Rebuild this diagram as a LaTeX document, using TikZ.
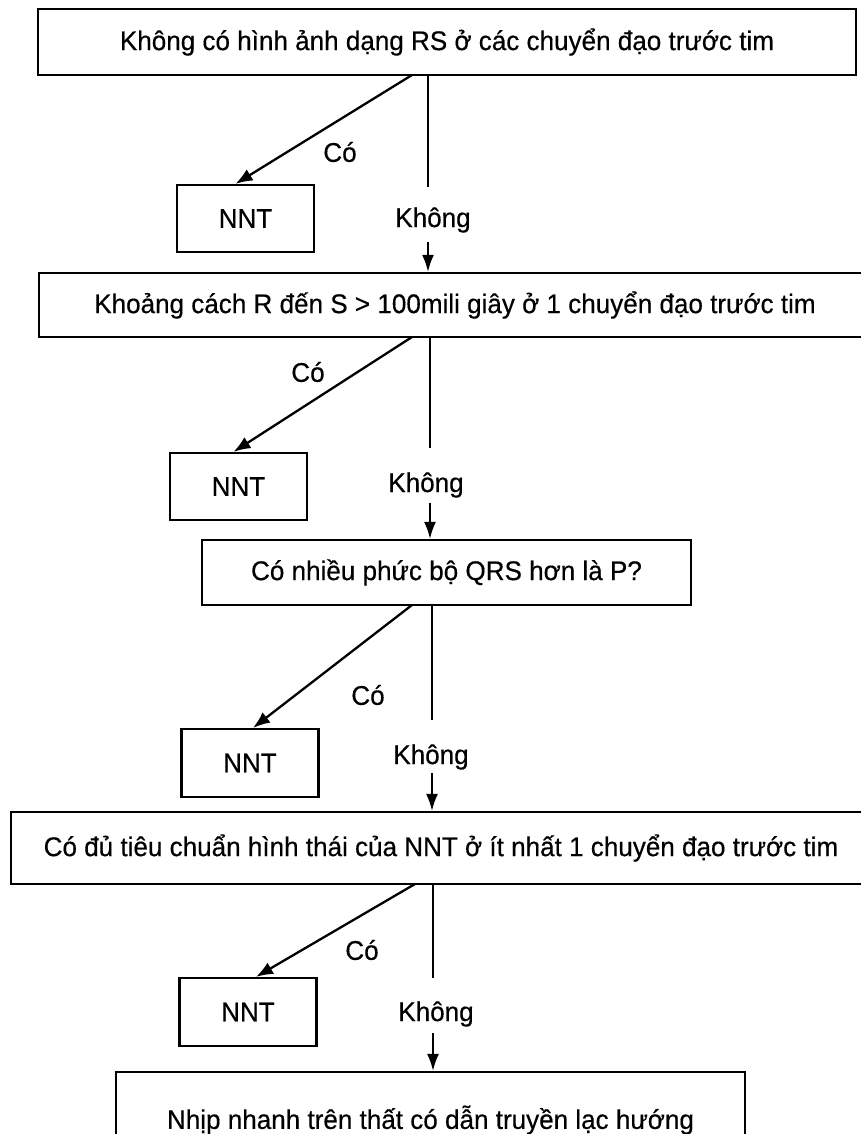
\documentclass[tikz,border=0pt]{standalone}
\usepackage{fontspec}
\setmainfont{Liberation Sans}[FakeStretch=0.965,FakeBold=0.4]
\usetikzlibrary{arrows.meta,calc}
\begin{document}
\begin{tikzpicture}[x=1pt,y=-1pt,
  txt/.style={font=\fontsize{27}{32}\selectfont},
  box/.style={draw,line width=2.2pt,inner sep=0pt,txt},
  nnt/.style={box,minimum width=137pt,minimum height=67pt},
  lbl/.style={inner sep=0pt,txt},
  yes/.style={line width=2.3pt,-{Latex[length=17pt,width=13pt]}},
  noline/.style={line width=2pt},
  noarr/.style={line width=2pt,-{Latex[length=17pt,width=12pt]}}]
\useasboundingbox (0,0) rectangle (860,1134);
\fill[white] (0,0) rectangle (860,1134);
% boxes
\node[box,minimum width=818pt,minimum height=66pt] (b1) at (447,42) {Không có hình ảnh dạng RS ở các chuyển đạo trước tim};
\node[box,minimum width=832pt,minimum height=64pt] (b2) at (455,305) {Khoảng cách R đến S > 100mili giây ở 1 chuyển đạo trước tim};
\node[box,minimum width=489pt,minimum height=65pt] (b3) at (446.5,572.5) {Có nhiều phức bộ QRS hơn là P?};
\node[box,minimum width=860pt,minimum height=72pt] (b4) at (441,848) {Có đủ tiêu chuẩn hình thái của NNT ở ít nhất 1 chuyển đạo trước tim};
\node[box,minimum width=629pt,minimum height=96pt] (b5) at (430.5,1120) {Nhịp nhanh trên thất có dẫn truyền lạc hướng};
% NNT boxes
\node[nnt] (n1) at (245.5,218.5) {NNT};
\node[nnt] (n2) at (238.5,486.5) {NNT};
\node[nnt,minimum height=68pt] (n3) at (250,763) {NNT};
\node[nnt,minimum height=68pt] (n4) at (248,1012) {NNT};
% labels
\node[lbl] (c1) at (340,152) {Có};
\node[lbl] (c2) at (308,372) {Có};
\node[lbl] (c3) at (368,695) {Có};
\node[lbl] (c4) at (362,950) {Có};
\node[lbl] (k1) at (433,220) {Không};
\node[lbl] (k2) at (426,485) {Không};
\node[lbl] (k3) at (431,757) {Không};
\node[lbl] (k4) at (436,1014) {Không};
% coordinates
\coordinate (s1) at (412,75);
\coordinate (s2) at (412,337);
\coordinate (s3) at (412,605);
\coordinate (s4) at (415,884);
\coordinate (v1a) at (428,187); \coordinate (v1b) at (428,242);
\coordinate (v2a) at (430,448); \coordinate (v2b) at (430,503);
\coordinate (v3a) at (432,720); \coordinate (v3b) at (432,773);
\coordinate (v4a) at (433,978); \coordinate (v4b) at (433,1033);
% yes branches
\draw[yes] (s1) -- ($(n1.north)+(-10,0)$);
\draw[yes] (s2) -- ($(n2.north)+(-5,0)$);
\draw[yes] (s3) -- ($(n3.north)+(3,0)$);
\draw[yes] (s4) -- ($(n4.north)+(8,0)$);
% no branches
\draw[noline] (b1.south -| v1a) -- (v1a);
\draw[noarr] (v1b) -- (b2.north -| v1b);
\draw[noline] (b2.south -| v2a) -- (v2a);
\draw[noarr] (v2b) -- (b3.north -| v2b);
\draw[noline] (b3.south -| v3a) -- (v3a);
\draw[noarr] (v3b) -- (b4.north -| v3b);
\draw[noline] (b4.south -| v4a) -- (v4a);
\draw[noarr] (v4b) -- (b5.north -| v4b);
\end{tikzpicture}
\end{document}
